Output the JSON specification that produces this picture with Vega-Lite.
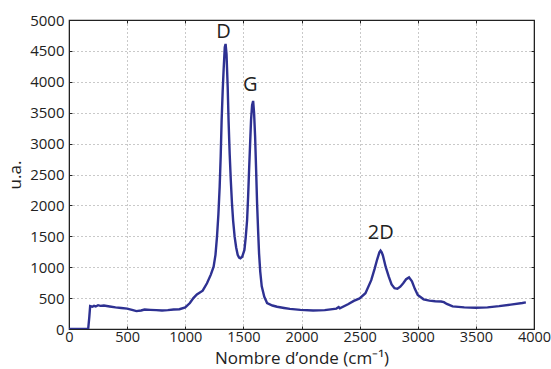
{
  "$schema": "https://vega.github.io/schema/vega-lite/v6.json",
  "width": 465,
  "height": 309,
  "autosize": {"type": "none"},
  "padding": {"left": 69, "top": 20, "right": 17, "bottom": 40},
  "background": "white",
  "config": {
    "view": {"stroke": "#222", "strokeWidth": 1.2},
    "font": "Open Sans",
    "axis": {
      "labelFont": "Open Sans",
      "titleFont": "Open Sans",
      "labelColor": "#222",
      "titleColor": "#222",
      "labelFontSize": 15,
      "titleFontSize": 17,
      "titleFontWeight": "normal",
      "domainColor": "#222",
      "tickColor": "#222",
      "gridColor": "#777",
      "gridDash": [1, 3],
      "gridWidth": 0.8,
      "format": "d"
    }
  },
  "datasets": {
    "spectrum": [
      {"x": 0, "y": 0}, {"x": 100, "y": 0}, {"x": 165, "y": 0}, {"x": 175, "y": 200},
      {"x": 182, "y": 370}, {"x": 200, "y": 360}, {"x": 215, "y": 375}, {"x": 230, "y": 365},
      {"x": 250, "y": 385}, {"x": 270, "y": 375}, {"x": 300, "y": 380}, {"x": 350, "y": 365},
      {"x": 400, "y": 350}, {"x": 450, "y": 340}, {"x": 500, "y": 330}, {"x": 550, "y": 305},
      {"x": 580, "y": 290}, {"x": 620, "y": 300}, {"x": 650, "y": 315}, {"x": 700, "y": 310},
      {"x": 750, "y": 305}, {"x": 800, "y": 300}, {"x": 850, "y": 305}, {"x": 900, "y": 315},
      {"x": 950, "y": 320}, {"x": 1000, "y": 350}, {"x": 1040, "y": 420}, {"x": 1070, "y": 500},
      {"x": 1100, "y": 560}, {"x": 1150, "y": 620}, {"x": 1187, "y": 740}, {"x": 1220, "y": 880},
      {"x": 1244, "y": 1010}, {"x": 1260, "y": 1200}, {"x": 1273, "y": 1490}, {"x": 1285, "y": 1850},
      {"x": 1296, "y": 2300}, {"x": 1305, "y": 2800}, {"x": 1313, "y": 3380}, {"x": 1322, "y": 3850},
      {"x": 1330, "y": 4190}, {"x": 1340, "y": 4560}, {"x": 1347, "y": 4612}, {"x": 1355, "y": 4450},
      {"x": 1365, "y": 3920}, {"x": 1373, "y": 3350}, {"x": 1382, "y": 2840}, {"x": 1392, "y": 2400},
      {"x": 1402, "y": 2030}, {"x": 1412, "y": 1750}, {"x": 1425, "y": 1490}, {"x": 1438, "y": 1320},
      {"x": 1451, "y": 1200}, {"x": 1463, "y": 1155}, {"x": 1474, "y": 1145}, {"x": 1490, "y": 1170},
      {"x": 1509, "y": 1280}, {"x": 1520, "y": 1480}, {"x": 1532, "y": 1760}, {"x": 1541, "y": 2150},
      {"x": 1549, "y": 2570}, {"x": 1558, "y": 3000}, {"x": 1566, "y": 3380}, {"x": 1575, "y": 3620},
      {"x": 1584, "y": 3690}, {"x": 1592, "y": 3500}, {"x": 1601, "y": 3110}, {"x": 1610, "y": 2550},
      {"x": 1618, "y": 2030}, {"x": 1627, "y": 1580}, {"x": 1635, "y": 1220}, {"x": 1645, "y": 930},
      {"x": 1658, "y": 690}, {"x": 1680, "y": 520}, {"x": 1704, "y": 420}, {"x": 1750, "y": 380},
      {"x": 1790, "y": 360}, {"x": 1850, "y": 340}, {"x": 1900, "y": 325}, {"x": 1991, "y": 310},
      {"x": 2100, "y": 300}, {"x": 2200, "y": 305}, {"x": 2300, "y": 330}, {"x": 2320, "y": 355},
      {"x": 2330, "y": 335}, {"x": 2400, "y": 400}, {"x": 2450, "y": 455}, {"x": 2500, "y": 495},
      {"x": 2550, "y": 580}, {"x": 2600, "y": 790}, {"x": 2630, "y": 980}, {"x": 2650, "y": 1120},
      {"x": 2670, "y": 1240}, {"x": 2680, "y": 1267}, {"x": 2690, "y": 1240}, {"x": 2700, "y": 1190},
      {"x": 2725, "y": 1000}, {"x": 2750, "y": 850}, {"x": 2775, "y": 720}, {"x": 2800, "y": 660},
      {"x": 2825, "y": 650}, {"x": 2850, "y": 685}, {"x": 2875, "y": 740}, {"x": 2900, "y": 805},
      {"x": 2925, "y": 835}, {"x": 2950, "y": 770}, {"x": 2975, "y": 650}, {"x": 3000, "y": 550},
      {"x": 3050, "y": 480}, {"x": 3100, "y": 460}, {"x": 3150, "y": 450}, {"x": 3200, "y": 445},
      {"x": 3225, "y": 435}, {"x": 3250, "y": 405}, {"x": 3300, "y": 365}, {"x": 3400, "y": 350},
      {"x": 3500, "y": 345}, {"x": 3600, "y": 350}, {"x": 3700, "y": 370}, {"x": 3800, "y": 395},
      {"x": 3900, "y": 420}, {"x": 3930, "y": 430}
    ],
    "labels": [
      {"label": "D", "x": 1328, "y": 4800},
      {"label": "G", "x": 1560, "y": 3945},
      {"label": "2D", "x": 2681, "y": 1555}
    ]
  },
  "layer": [
    {
      "data": {"name": "spectrum"},
      "mark": {"type": "line", "color": "#2E3192", "strokeWidth": 2.4, "clip": true},
      "encoding": {
        "x": {
          "field": "x", "type": "quantitative",
          "scale": {"domain": [0, 4000], "nice": false, "zero": false},
          "axis": {
            "orient": "bottom", "title": "Nombre d’onde (cm⁻¹)",
            "values": [0, 500, 1000, 1500, 2000, 2500, 3000, 3500, 4000],
            "tickSize": -3, "labelPadding": 4, "labelFontSize": 14.5, "titlePadding": 3,
            "titleBaseline": "alphabetic", "titleY": 34,
            "grid": true, "labelFlush": false, "labelOverlap": false
          }
        },
        "y": {
          "field": "y", "type": "quantitative",
          "scale": {"domain": [0, 5000], "nice": false},
          "axis": {
            "orient": "left", "title": "u.a.",
            "values": [0, 500, 1000, 1500, 2000, 2500, 3000, 3500, 4000, 4500, 5000],
            "tickSize": -3, "labelPadding": 8, "titlePadding": 5,
            "grid": true, "labelFlush": false, "labelOverlap": false
          }
        }
      }
    },
    {
      "data": {"name": "spectrum"},
      "mark": {"type": "line", "opacity": 0},
      "encoding": {
        "x": {
          "field": "x", "type": "quantitative",
          "scale": {"domain": [0, 4000], "nice": false, "zero": false},
          "axis": {
            "orient": "top", "title": null, "labels": false, "grid": false,
            "values": [0, 500, 1000, 1500, 2000, 2500, 3000, 3500, 4000],
            "tickSize": -3, "domain": true
          }
        },
        "y": {
          "field": "y", "type": "quantitative",
          "scale": {"domain": [0, 5000], "nice": false},
          "axis": {
            "orient": "right", "title": null, "labels": false, "grid": false,
            "values": [0, 500, 1000, 1500, 2000, 2500, 3000, 3500, 4000, 4500, 5000],
            "tickSize": -3, "domain": true
          }
        }
      }
    },
    {
      "data": {"name": "labels"},
      "mark": {"type": "text", "font": "Open Sans", "fontSize": 20, "color": "#222", "baseline": "middle", "align": "center"},
      "encoding": {
        "x": {"field": "x", "type": "quantitative", "axis": null},
        "y": {"field": "y", "type": "quantitative", "axis": null},
        "text": {"field": "label"}
      }
    }
  ],
  "resolve": {"axis": {"x": "independent", "y": "independent"}}
}
